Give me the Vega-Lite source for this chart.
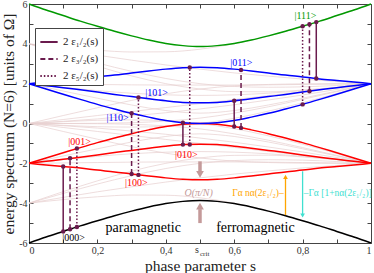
{
"$schema":"https://vega.github.io/schema/vega-lite/v6.json",
"width":342,"height":239,
"autosize":{"type":"none"},
"padding":{"left":29,"top":4,"right":3,"bottom":30},
"background":"white",
"config":{"view":{"stroke":null},"font":"Liberation Serif",
"axis":{"domainColor":"#444","tickColor":"#444","labelColor":"#333","labelFont":"Liberation Serif","labelFontSize":10,"titleFont":"Liberation Serif","titleFontSize":15.5,"titleFontWeight":"normal","titleColor":"#222","tickSize":-4,"labelPadding":6,"grid":false}},
"resolve":{"axis":{"x":"independent","y":"independent"}},
"datasets":{
"faint":[
{"s":0,"g":"L1","E":-4},{"s":0.1,"g":"L1","E":-3.82},{"s":0.2,"g":"L1","E":-3.68},{"s":0.3,"g":"L1","E":-3.59},{"s":0.4,"g":"L1","E":-3.6},{"s":0.5,"g":"L1","E":-3.73},{"s":0.6,"g":"L1","E":-4},{"s":0.7,"g":"L1","E":-4.39},{"s":0.8,"g":"L1","E":-4.88},{"s":0.9,"g":"L1","E":-5.42},{"s":1,"g":"L1","E":-6},
{"s":0,"g":"L2","E":-4},{"s":0.1,"g":"L2","E":-3.42},{"s":0.2,"g":"L2","E":-2.88},{"s":0.3,"g":"L2","E":-2.39},{"s":0.4,"g":"L2","E":-2},{"s":0.5,"g":"L2","E":-1.73},{"s":0.6,"g":"L2","E":-1.6},{"s":0.7,"g":"L2","E":-1.59},{"s":0.8,"g":"L2","E":-1.68},{"s":0.9,"g":"L2","E":-1.82},{"s":1,"g":"L2","E":-2},
{"s":0,"g":"L3","E":-4},{"s":0.1,"g":"L3","E":-3.71},{"s":0.2,"g":"L3","E":-3.43},{"s":0.3,"g":"L3","E":-3.18},{"s":0.4,"g":"L3","E":-2.94},{"s":0.5,"g":"L3","E":-2.73},{"s":0.6,"g":"L3","E":-2.54},{"s":0.7,"g":"L3","E":-2.38},{"s":0.8,"g":"L3","E":-2.23},{"s":0.9,"g":"L3","E":-2.11},{"s":1,"g":"L3","E":-2},
{"s":0,"g":"L4","E":-4},{"s":0.1,"g":"L4","E":-3.51},{"s":0.2,"g":"L4","E":-3.04},{"s":0.3,"g":"L4","E":-2.62},{"s":0.4,"g":"L4","E":-2.26},{"s":0.5,"g":"L4","E":-2},{"s":0.6,"g":"L4","E":-1.86},{"s":0.7,"g":"L4","E":-1.82},{"s":0.8,"g":"L4","E":-1.84},{"s":0.9,"g":"L4","E":-1.91},{"s":1,"g":"L4","E":-2},
{"s":0,"g":"L5","E":0},{"s":0.1,"g":"L5","E":-0.11},{"s":0.2,"g":"L5","E":-0.23},{"s":0.3,"g":"L5","E":-0.38},{"s":0.4,"g":"L5","E":-0.54},{"s":0.5,"g":"L5","E":-0.73},{"s":0.6,"g":"L5","E":-0.94},{"s":0.7,"g":"L5","E":-1.18},{"s":0.8,"g":"L5","E":-1.43},{"s":0.9,"g":"L5","E":-1.71},{"s":1,"g":"L5","E":-2},
{"s":0,"g":"L6","E":0},{"s":0.1,"g":"L6","E":0.09},{"s":0.2,"g":"L6","E":0.16},{"s":0.3,"g":"L6","E":0.18},{"s":0.4,"g":"L6","E":0.14},{"s":0.5,"g":"L6","E":0},{"s":0.6,"g":"L6","E":-0.26},{"s":0.7,"g":"L6","E":-0.62},{"s":0.8,"g":"L6","E":-1.04},{"s":0.9,"g":"L6","E":-1.51},{"s":1,"g":"L6","E":-2},
{"s":0,"g":"L7","E":0},{"s":0.1,"g":"L7","E":-0.4},{"s":0.2,"g":"L7","E":-0.79},{"s":0.3,"g":"L7","E":-1.16},{"s":0.4,"g":"L7","E":-1.49},{"s":0.5,"g":"L7","E":-1.73},{"s":0.6,"g":"L7","E":-1.89},{"s":0.7,"g":"L7","E":-1.96},{"s":0.8,"g":"L7","E":-1.99},{"s":0.9,"g":"L7","E":-2},{"s":1,"g":"L7","E":-2},
{"s":0,"g":"L8","E":0},{"s":0.1,"g":"L8","E":0},{"s":0.2,"g":"L8","E":-0.01},{"s":0.3,"g":"L8","E":-0.04},{"s":0.4,"g":"L8","E":-0.12},{"s":0.5,"g":"L8","E":-0.27},{"s":0.6,"g":"L8","E":-0.52},{"s":0.7,"g":"L8","E":-0.84},{"s":0.8,"g":"L8","E":-1.21},{"s":0.9,"g":"L8","E":-1.6},{"s":1,"g":"L8","E":-2},
{"s":0,"g":"L9","E":0},{"s":0.1,"g":"L9","E":-0.2},{"s":0.2,"g":"L9","E":-0.4},{"s":0.3,"g":"L9","E":-0.6},{"s":0.4,"g":"L9","E":-0.8},{"s":0.5,"g":"L9","E":-1},{"s":0.6,"g":"L9","E":-1.2},{"s":0.7,"g":"L9","E":-1.4},{"s":0.8,"g":"L9","E":-1.6},{"s":0.9,"g":"L9","E":-1.8},{"s":1,"g":"L9","E":-2},
{"s":0,"g":"L10","E":0},{"s":0.1,"g":"L10","E":0},{"s":0.2,"g":"L10","E":0.01},{"s":0.3,"g":"L10","E":0.04},{"s":0.4,"g":"L10","E":0.12},{"s":0.5,"g":"L10","E":0.27},{"s":0.6,"g":"L10","E":0.52},{"s":0.7,"g":"L10","E":0.84},{"s":0.8,"g":"L10","E":1.21},{"s":0.9,"g":"L10","E":1.6},{"s":1,"g":"L10","E":2},
{"s":0,"g":"L11","E":0},{"s":0.1,"g":"L11","E":0.4},{"s":0.2,"g":"L11","E":0.79},{"s":0.3,"g":"L11","E":1.16},{"s":0.4,"g":"L11","E":1.49},{"s":0.5,"g":"L11","E":1.73},{"s":0.6,"g":"L11","E":1.89},{"s":0.7,"g":"L11","E":1.96},{"s":0.8,"g":"L11","E":1.99},{"s":0.9,"g":"L11","E":2},{"s":1,"g":"L11","E":2},
{"s":0,"g":"L12","E":0},{"s":0.1,"g":"L12","E":0.2},{"s":0.2,"g":"L12","E":0.4},{"s":0.3,"g":"L12","E":0.6},{"s":0.4,"g":"L12","E":0.8},{"s":0.5,"g":"L12","E":1},{"s":0.6,"g":"L12","E":1.2},{"s":0.7,"g":"L12","E":1.4},{"s":0.8,"g":"L12","E":1.6},{"s":0.9,"g":"L12","E":1.8},{"s":1,"g":"L12","E":2},
{"s":0,"g":"L13","E":0},{"s":0.1,"g":"L13","E":0.11},{"s":0.2,"g":"L13","E":0.23},{"s":0.3,"g":"L13","E":0.38},{"s":0.4,"g":"L13","E":0.54},{"s":0.5,"g":"L13","E":0.73},{"s":0.6,"g":"L13","E":0.94},{"s":0.7,"g":"L13","E":1.18},{"s":0.8,"g":"L13","E":1.43},{"s":0.9,"g":"L13","E":1.71},{"s":1,"g":"L13","E":2},
{"s":0,"g":"L14","E":0},{"s":0.1,"g":"L14","E":-0.09},{"s":0.2,"g":"L14","E":-0.16},{"s":0.3,"g":"L14","E":-0.18},{"s":0.4,"g":"L14","E":-0.14},{"s":0.5,"g":"L14","E":0},{"s":0.6,"g":"L14","E":0.26},{"s":0.7,"g":"L14","E":0.62},{"s":0.8,"g":"L14","E":1.04},{"s":0.9,"g":"L14","E":1.51},{"s":1,"g":"L14","E":2},
{"s":0,"g":"L15","E":4},{"s":0.1,"g":"L15","E":3.51},{"s":0.2,"g":"L15","E":3.04},{"s":0.3,"g":"L15","E":2.62},{"s":0.4,"g":"L15","E":2.26},{"s":0.5,"g":"L15","E":2},{"s":0.6,"g":"L15","E":1.86},{"s":0.7,"g":"L15","E":1.82},{"s":0.8,"g":"L15","E":1.84},{"s":0.9,"g":"L15","E":1.91},{"s":1,"g":"L15","E":2},
{"s":0,"g":"L16","E":4},{"s":0.1,"g":"L16","E":3.71},{"s":0.2,"g":"L16","E":3.43},{"s":0.3,"g":"L16","E":3.18},{"s":0.4,"g":"L16","E":2.94},{"s":0.5,"g":"L16","E":2.73},{"s":0.6,"g":"L16","E":2.54},{"s":0.7,"g":"L16","E":2.38},{"s":0.8,"g":"L16","E":2.23},{"s":0.9,"g":"L16","E":2.11},{"s":1,"g":"L16","E":2},
{"s":0,"g":"L17","E":4},{"s":0.1,"g":"L17","E":3.42},{"s":0.2,"g":"L17","E":2.88},{"s":0.3,"g":"L17","E":2.39},{"s":0.4,"g":"L17","E":2},{"s":0.5,"g":"L17","E":1.73},{"s":0.6,"g":"L17","E":1.6},{"s":0.7,"g":"L17","E":1.59},{"s":0.8,"g":"L17","E":1.68},{"s":0.9,"g":"L17","E":1.82},{"s":1,"g":"L17","E":2},
{"s":0,"g":"L18","E":4},{"s":0.1,"g":"L18","E":3.82},{"s":0.2,"g":"L18","E":3.68},{"s":0.3,"g":"L18","E":3.59},{"s":0.4,"g":"L18","E":3.6},{"s":0.5,"g":"L18","E":3.73},{"s":0.6,"g":"L18","E":4},{"s":0.7,"g":"L18","E":4.39},{"s":0.8,"g":"L18","E":4.88},{"s":0.9,"g":"L18","E":5.42},{"s":1,"g":"L18","E":6},
{"s":0,"g":"F1","E":-2},{"s":0.1,"g":"F1","E":-1.98},{"s":0.2,"g":"F1","E":-1.96},{"s":0.3,"g":"F1","E":-1.94},{"s":0.4,"g":"F1","E":-1.93},{"s":0.5,"g":"F1","E":-1.93},{"s":0.6,"g":"F1","E":-1.93},{"s":0.7,"g":"F1","E":-1.94},{"s":0.8,"g":"F1","E":-1.96},{"s":0.9,"g":"F1","E":-1.98},{"s":1,"g":"F1","E":-2},
{"s":0,"g":"F2","E":-2},{"s":0.1,"g":"F2","E":-1.81},{"s":0.2,"g":"F2","E":-1.65},{"s":0.3,"g":"F2","E":-1.52},{"s":0.4,"g":"F2","E":-1.44},{"s":0.5,"g":"F2","E":-1.41},{"s":0.6,"g":"F2","E":-1.44},{"s":0.7,"g":"F2","E":-1.52},{"s":0.8,"g":"F2","E":-1.65},{"s":0.9,"g":"F2","E":-1.81},{"s":1,"g":"F2","E":-2},
{"s":0,"g":"F3","E":-2},{"s":0.1,"g":"F3","E":-1.63},{"s":0.2,"g":"F3","E":-1.27},{"s":0.3,"g":"F3","E":-0.93},{"s":0.4,"g":"F3","E":-0.65},{"s":0.5,"g":"F3","E":-0.52},{"s":0.6,"g":"F3","E":-0.65},{"s":0.7,"g":"F3","E":-0.93},{"s":0.8,"g":"F3","E":-1.27},{"s":0.9,"g":"F3","E":-1.63},{"s":1,"g":"F3","E":-2},
{"s":0,"g":"F4","E":2},{"s":0.1,"g":"F4","E":1.98},{"s":0.2,"g":"F4","E":1.96},{"s":0.3,"g":"F4","E":1.94},{"s":0.4,"g":"F4","E":1.93},{"s":0.5,"g":"F4","E":1.93},{"s":0.6,"g":"F4","E":1.93},{"s":0.7,"g":"F4","E":1.94},{"s":0.8,"g":"F4","E":1.96},{"s":0.9,"g":"F4","E":1.98},{"s":1,"g":"F4","E":2},
{"s":0,"g":"F5","E":2},{"s":0.1,"g":"F5","E":1.81},{"s":0.2,"g":"F5","E":1.65},{"s":0.3,"g":"F5","E":1.52},{"s":0.4,"g":"F5","E":1.44},{"s":0.5,"g":"F5","E":1.41},{"s":0.6,"g":"F5","E":1.44},{"s":0.7,"g":"F5","E":1.52},{"s":0.8,"g":"F5","E":1.65},{"s":0.9,"g":"F5","E":1.81},{"s":1,"g":"F5","E":2},
{"s":0,"g":"F6","E":2},{"s":0.1,"g":"F6","E":1.63},{"s":0.2,"g":"F6","E":1.27},{"s":0.3,"g":"F6","E":0.93},{"s":0.4,"g":"F6","E":0.65},{"s":0.5,"g":"F6","E":0.52},{"s":0.6,"g":"F6","E":0.65},{"s":0.7,"g":"F6","E":0.93},{"s":0.8,"g":"F6","E":1.27},{"s":0.9,"g":"F6","E":1.63},{"s":1,"g":"F6","E":2}
],
"levels":[
{"s":0,"k":"000","E":-6},{"s":0.05,"k":"000","E":-5.7},{"s":0.1,"k":"000","E":-5.42},{"s":0.15,"k":"000","E":-5.14},{"s":0.2,"k":"000","E":-4.88},{"s":0.25,"k":"000","E":-4.63},{"s":0.3,"k":"000","E":-4.4},{"s":0.35,"k":"000","E":-4.19},{"s":0.4,"k":"000","E":-4.02},{"s":0.45,"k":"000","E":-3.91},{"s":0.5,"k":"000","E":-3.86},{"s":0.55,"k":"000","E":-3.91},{"s":0.6,"k":"000","E":-4.02},{"s":0.65,"k":"000","E":-4.19},{"s":0.7,"k":"000","E":-4.4},{"s":0.75,"k":"000","E":-4.63},{"s":0.8,"k":"000","E":-4.88},{"s":0.85,"k":"000","E":-5.14},{"s":0.9,"k":"000","E":-5.42},{"s":0.95,"k":"000","E":-5.7},{"s":1,"k":"000","E":-6},
{"s":0,"k":"100","E":-2},{"s":0.05,"k":"100","E":-2.08},{"s":0.1,"k":"100","E":-2.16},{"s":0.15,"k":"100","E":-2.24},{"s":0.2,"k":"100","E":-2.34},{"s":0.25,"k":"100","E":-2.43},{"s":0.3,"k":"100","E":-2.54},{"s":0.35,"k":"100","E":-2.64},{"s":0.4,"k":"100","E":-2.73},{"s":0.45,"k":"100","E":-2.8},{"s":0.5,"k":"100","E":-2.83},{"s":0.55,"k":"100","E":-2.8},{"s":0.6,"k":"100","E":-2.73},{"s":0.65,"k":"100","E":-2.64},{"s":0.7,"k":"100","E":-2.54},{"s":0.75,"k":"100","E":-2.43},{"s":0.8,"k":"100","E":-2.34},{"s":0.85,"k":"100","E":-2.24},{"s":0.9,"k":"100","E":-2.16},{"s":0.95,"k":"100","E":-2.08},{"s":1,"k":"100","E":-2},
{"s":0,"k":"010","E":-2},{"s":0.05,"k":"010","E":-1.9},{"s":0.1,"k":"010","E":-1.8},{"s":0.15,"k":"010","E":-1.69},{"s":0.2,"k":"010","E":-1.58},{"s":0.25,"k":"010","E":-1.46},{"s":0.3,"k":"010","E":-1.35},{"s":0.35,"k":"010","E":-1.24},{"s":0.4,"k":"010","E":-1.14},{"s":0.45,"k":"010","E":-1.06},{"s":0.5,"k":"010","E":-1.04},{"s":0.55,"k":"010","E":-1.06},{"s":0.6,"k":"010","E":-1.14},{"s":0.65,"k":"010","E":-1.24},{"s":0.7,"k":"010","E":-1.35},{"s":0.75,"k":"010","E":-1.46},{"s":0.8,"k":"010","E":-1.58},{"s":0.85,"k":"010","E":-1.69},{"s":0.9,"k":"010","E":-1.8},{"s":0.95,"k":"010","E":-1.9},{"s":1,"k":"010","E":-2},
{"s":0,"k":"001","E":-2},{"s":0.05,"k":"001","E":-1.73},{"s":0.1,"k":"001","E":-1.47},{"s":0.15,"k":"001","E":-1.21},{"s":0.2,"k":"001","E":-0.96},{"s":0.25,"k":"001","E":-0.73},{"s":0.3,"k":"001","E":-0.51},{"s":0.35,"k":"001","E":-0.32},{"s":0.4,"k":"001","E":-0.15},{"s":0.45,"k":"001","E":-0.04},{"s":0.5,"k":"001","E":0},{"s":0.55,"k":"001","E":-0.04},{"s":0.6,"k":"001","E":-0.15},{"s":0.65,"k":"001","E":-0.32},{"s":0.7,"k":"001","E":-0.51},{"s":0.75,"k":"001","E":-0.73},{"s":0.8,"k":"001","E":-0.96},{"s":0.85,"k":"001","E":-1.21},{"s":0.9,"k":"001","E":-1.47},{"s":0.95,"k":"001","E":-1.73},{"s":1,"k":"001","E":-2},
{"s":0,"k":"110","E":2},{"s":0.05,"k":"110","E":1.73},{"s":0.1,"k":"110","E":1.47},{"s":0.15,"k":"110","E":1.21},{"s":0.2,"k":"110","E":0.96},{"s":0.25,"k":"110","E":0.73},{"s":0.3,"k":"110","E":0.51},{"s":0.35,"k":"110","E":0.32},{"s":0.4,"k":"110","E":0.15},{"s":0.45,"k":"110","E":0.04},{"s":0.5,"k":"110","E":0},{"s":0.55,"k":"110","E":0.04},{"s":0.6,"k":"110","E":0.15},{"s":0.65,"k":"110","E":0.32},{"s":0.7,"k":"110","E":0.51},{"s":0.75,"k":"110","E":0.73},{"s":0.8,"k":"110","E":0.96},{"s":0.85,"k":"110","E":1.21},{"s":0.9,"k":"110","E":1.47},{"s":0.95,"k":"110","E":1.73},{"s":1,"k":"110","E":2},
{"s":0,"k":"101","E":2},{"s":0.05,"k":"101","E":1.9},{"s":0.1,"k":"101","E":1.8},{"s":0.15,"k":"101","E":1.69},{"s":0.2,"k":"101","E":1.58},{"s":0.25,"k":"101","E":1.46},{"s":0.3,"k":"101","E":1.35},{"s":0.35,"k":"101","E":1.24},{"s":0.4,"k":"101","E":1.14},{"s":0.45,"k":"101","E":1.06},{"s":0.5,"k":"101","E":1.04},{"s":0.55,"k":"101","E":1.06},{"s":0.6,"k":"101","E":1.14},{"s":0.65,"k":"101","E":1.24},{"s":0.7,"k":"101","E":1.35},{"s":0.75,"k":"101","E":1.46},{"s":0.8,"k":"101","E":1.58},{"s":0.85,"k":"101","E":1.69},{"s":0.9,"k":"101","E":1.8},{"s":0.95,"k":"101","E":1.9},{"s":1,"k":"101","E":2},
{"s":0,"k":"011","E":2},{"s":0.05,"k":"011","E":2.08},{"s":0.1,"k":"011","E":2.16},{"s":0.15,"k":"011","E":2.24},{"s":0.2,"k":"011","E":2.34},{"s":0.25,"k":"011","E":2.43},{"s":0.3,"k":"011","E":2.54},{"s":0.35,"k":"011","E":2.64},{"s":0.4,"k":"011","E":2.73},{"s":0.45,"k":"011","E":2.8},{"s":0.5,"k":"011","E":2.83},{"s":0.55,"k":"011","E":2.8},{"s":0.6,"k":"011","E":2.73},{"s":0.65,"k":"011","E":2.64},{"s":0.7,"k":"011","E":2.54},{"s":0.75,"k":"011","E":2.43},{"s":0.8,"k":"011","E":2.34},{"s":0.85,"k":"011","E":2.24},{"s":0.9,"k":"011","E":2.16},{"s":0.95,"k":"011","E":2.08},{"s":1,"k":"011","E":2},
{"s":0,"k":"111","E":6},{"s":0.05,"k":"111","E":5.7},{"s":0.1,"k":"111","E":5.42},{"s":0.15,"k":"111","E":5.14},{"s":0.2,"k":"111","E":4.88},{"s":0.25,"k":"111","E":4.63},{"s":0.3,"k":"111","E":4.4},{"s":0.35,"k":"111","E":4.19},{"s":0.4,"k":"111","E":4.02},{"s":0.45,"k":"111","E":3.91},{"s":0.5,"k":"111","E":3.86},{"s":0.55,"k":"111","E":3.91},{"s":0.6,"k":"111","E":4.02},{"s":0.65,"k":"111","E":4.19},{"s":0.7,"k":"111","E":4.4},{"s":0.75,"k":"111","E":4.63},{"s":0.8,"k":"111","E":4.88},{"s":0.85,"k":"111","E":5.14},{"s":0.9,"k":"111","E":5.42},{"s":0.95,"k":"111","E":5.7},{"s":1,"k":"111","E":6}
],
"trans":[
{"s":0.1,"lo":-5.42,"hi":-2.16,"t":"2 ε₁/₂(s)"},
{"s":0.12,"lo":-5.31,"hi":-1.75,"t":"2 ε₃/₂(s)"},
{"s":0.14,"lo":-5.2,"hi":-1.26,"t":"2 ε₅/₂(s)"},
{"s":0.3,"lo":-2.54,"hi":0.51,"t":"2 ε₃/₂(s)"},
{"s":0.32,"lo":-2.58,"hi":1.31,"t":"2 ε₅/₂(s)"},
{"s":0.45,"lo":-1.06,"hi":0.04,"t":"2 ε₁/₂(s)"},
{"s":0.47,"lo":-1.05,"hi":2.81,"t":"2 ε₅/₂(s)"},
{"s":0.6,"lo":-0.15,"hi":1.14,"t":"2 ε₁/₂(s)"},
{"s":0.62,"lo":-0.22,"hi":2.69,"t":"2 ε₃/₂(s)"},
{"s":0.8,"lo":0.96,"hi":4.88,"t":"2 ε₅/₂(s)"},
{"s":0.82,"lo":1.62,"hi":4.98,"t":"2 ε₃/₂(s)"},
{"s":0.84,"lo":2.26,"hi":5.09,"t":"2 ε₁/₂(s)"}
],
"labels":[
{"s":0.808,"E":5.4,"k":"111","txt":"|111>"},
{"s":0.621,"E":3.04,"k":"011","txt":"|011>"},
{"s":0.373,"E":1.53,"k":"101","txt":"|101>"},
{"s":0.259,"E":0.28,"k":"110","txt":"|110>"},
{"s":0.148,"E":-0.93,"k":"001","txt":"|001>"},
{"s":0.46,"E":-1.58,"k":"010","txt":"|010>"},
{"s":0.314,"E":-2.99,"k":"100","txt":"|100>"},
{"s":0.13,"E":-5.75,"k":"000","txt":"|000>"}
]
},
"layer":[
{"data":{"name":"faint"},
"mark":{"type":"line","interpolate":"monotone","strokeWidth":0.7,"color":"#e6cfcf"},
"encoding":{
"x":{"field":"s","type":"quantitative","scale":{"domain":[0,1],"nice":false,"zero":false},
"axis":{"orient":"bottom","values":[0,0.1,0.2,0.3,0.4,0.5,0.6,0.7,0.8,0.9,1],"labelExpr":"round(datum.value*10) % 2 === 0 ? replace('' + datum.value, '.', ',') : ''","title":"phase parameter s","titlePadding":3}},
"y":{"field":"E","type":"quantitative","scale":{"domain":[-6,6],"nice":false,"zero":false},
"axis":{"orient":"left","values":[-6,-5,-4,-3,-2,-1,0,1,2,3,4,5,6],"labelExpr":"datum.value % 2 === 0 ? '' + datum.value : ''","title":"energy spectrum (N=6) [units of Ω]","titlePadding":2}},
"detail":{"field":"g"}}},
{"data":{"name":"levels"},
"mark":{"type":"line","interpolate":"monotone","strokeWidth":1.5},
"encoding":{
"x":{"field":"s","type":"quantitative","axis":{"orient":"top","values":[0,0.1,0.2,0.3,0.4,0.5,0.6,0.7,0.8,0.9,1],"labels":false,"title":null}},
"y":{"field":"E","type":"quantitative","axis":{"orient":"right","values":[-6,-5,-4,-3,-2,-1,0,1,2,3,4,5,6],"labels":false,"title":null}},
"color":{"field":"k","type":"nominal","scale":{"domain":["000","100","010","001","110","101","011","111"],"range":["#000000","#ff0000","#ff0000","#ff0000","#0000ff","#0000ff","#0000ff","#009900"]},"legend":null},
"detail":{"field":"k"}}},
{"data":{"name":"trans"},
"mark":{"type":"rule","color":"#6a1b4d","strokeWidth":1.5},
"encoding":{
"x":{"field":"s","type":"quantitative","axis":null},
"y":{"field":"lo","type":"quantitative","axis":null},
"y2":{"field":"hi"},
"strokeDash":{"field":"t","type":"nominal","scale":{"domain":["2 ε₁/₂(s)","2 ε₃/₂(s)","2 ε₅/₂(s)"],"range":[[1,0],[5,3],[1.5,2]]},
"legend":{"title":null,"orient":"none","legendX":6,"legendY":24,"symbolType":"stroke","symbolSize":300,"symbolStrokeWidth":1.8,"symbolStrokeColor":"#6a1b4d","labelFont":"Liberation Serif","labelFontSize":11,"labelColor":"#222","strokeColor":"#444","fillColor":"white","padding":4,"rowPadding":2}}}},
{"data":{"name":"trans"},
"mark":{"type":"point","filled":true,"size":20,"color":"#6a1b4d","opacity":1},
"encoding":{"x":{"field":"s","type":"quantitative","axis":null},"y":{"field":"lo","type":"quantitative","axis":null}}},
{"data":{"name":"trans"},
"mark":{"type":"point","filled":true,"size":20,"color":"#6a1b4d","opacity":1},
"encoding":{"x":{"field":"s","type":"quantitative","axis":null},"y":{"field":"hi","type":"quantitative","axis":null}}},
{"data":{"name":"labels"},
"mark":{"type":"text","fontSize":10,"font":"Liberation Serif","align":"center","baseline":"middle"},
"encoding":{"x":{"field":"s","type":"quantitative","axis":null},"y":{"field":"E","type":"quantitative","axis":null},
"text":{"field":"txt"},"color":{"field":"k","type":"nominal","legend":null}}},
{"data":{"values":[{}]},"mark":{"type":"rule","color":"#ffa500","strokeWidth":1.3},
"encoding":{"x":{"datum":0.75,"type":"quantitative","axis":null},"y":{"datum":-4.6,"type":"quantitative","axis":null},"y2":{"datum":-2.75}}},
{"data":{"values":[{}]},"mark":{"type":"point","shape":"triangle-up","filled":true,"size":22,"color":"#ffa500","opacity":1},
"encoding":{"x":{"datum":0.75,"type":"quantitative","axis":null},"y":{"datum":-2.68,"type":"quantitative","axis":null}}},
{"data":{"values":[{}]},"mark":{"type":"rule","color":"#40e0d0","strokeWidth":1.3},
"encoding":{"x":{"datum":0.8,"type":"quantitative","axis":null},"y":{"datum":-2.4,"type":"quantitative","axis":null},"y2":{"datum":-4.55}}},
{"data":{"values":[{}]},"mark":{"type":"point","shape":"triangle-down","filled":true,"size":22,"color":"#40e0d0","opacity":1},
"encoding":{"x":{"datum":0.8,"type":"quantitative","axis":null},"y":{"datum":-4.62,"type":"quantitative","axis":null}}},
{"data":{"values":[{}]},"mark":{"type":"rule","color":"#c49a9a","strokeWidth":3.5},
"encoding":{"x":{"datum":0.5,"type":"quantitative","axis":null},"y":{"datum":-1.9,"type":"quantitative","axis":null},"y2":{"datum":-2.45}}},
{"data":{"values":[{}]},"mark":{"type":"point","shape":"triangle-down","filled":true,"size":60,"color":"#c49a9a","opacity":1},
"encoding":{"x":{"datum":0.5,"type":"quantitative","axis":null},"y":{"datum":-2.55,"type":"quantitative","axis":null}}},
{"data":{"values":[{}]},"mark":{"type":"rule","color":"#c49a9a","strokeWidth":3.5},
"encoding":{"x":{"datum":0.5,"type":"quantitative","axis":null},"y":{"datum":-5.0,"type":"quantitative","axis":null},"y2":{"datum":-4.3}}},
{"data":{"values":[{}]},"mark":{"type":"point","shape":"triangle-up","filled":true,"size":60,"color":"#c49a9a","opacity":1},
"encoding":{"x":{"datum":0.5,"type":"quantitative","axis":null},"y":{"datum":-4.15,"type":"quantitative","axis":null}}},
{"data":{"values":[{}]},"mark":{"type":"text","text":"O(π/N)","fontSize":10,"fontStyle":"italic","color":"#c49a9a","align":"center","baseline":"middle"},
"encoding":{"x":{"datum":0.496,"type":"quantitative","axis":null},"y":{"datum":-3.49,"type":"quantitative","axis":null}}},
{"data":{"values":[{}]},"mark":{"type":"text","text":"Γα nα(2ε₁/₂)–","fontSize":9.5,"color":"#ffa500","align":"right","baseline":"middle"},
"encoding":{"x":{"datum":0.745,"type":"quantitative","axis":null},"y":{"datum":-3.49,"type":"quantitative","axis":null}}},
{"data":{"values":[{}]},"mark":{"type":"text","text":"–Γα [1+nα(2ε₁/₂)]","fontSize":9.5,"color":"#40e0d0","align":"left","baseline":"middle"},
"encoding":{"x":{"datum":0.803,"type":"quantitative","axis":null},"y":{"datum":-3.49,"type":"quantitative","axis":null}}},
{"data":{"values":[{}]},"mark":{"type":"text","text":"paramagnetic","fontSize":14,"color":"#000","align":"center","baseline":"middle"},
"encoding":{"x":{"datum":0.334,"type":"quantitative","axis":null},"y":{"datum":-5.24,"type":"quantitative","axis":null}}},
{"data":{"values":[{}]},"mark":{"type":"text","text":"ferromagnetic","fontSize":14,"color":"#000","align":"center","baseline":"middle"},
"encoding":{"x":{"datum":0.662,"type":"quantitative","axis":null},"y":{"datum":-5.24,"type":"quantitative","axis":null}}},
{"data":{"values":[{}]},"mark":{"type":"text","text":"s","fontSize":10,"color":"#333","align":"center","baseline":"middle","dx":-3,"dy":7},
"encoding":{"x":{"datum":0.5,"type":"quantitative","axis":null},"y":{"datum":-6,"type":"quantitative","axis":null}}},
{"data":{"values":[{}]},"mark":{"type":"text","text":"crit","fontSize":7,"color":"#333","align":"left","baseline":"middle","dx":0,"dy":11},
"encoding":{"x":{"datum":0.5,"type":"quantitative","axis":null},"y":{"datum":-6,"type":"quantitative","axis":null}}}
]
}
